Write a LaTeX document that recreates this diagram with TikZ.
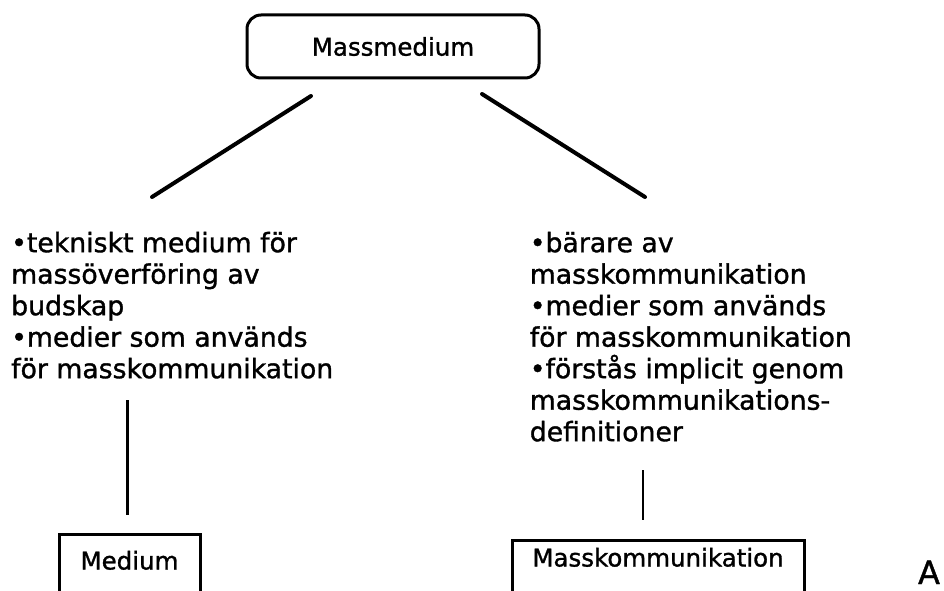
\documentclass[tikz,border=0pt]{standalone}
\usepackage{fontspec}
\setmainfont[FakeBold=1.2]{DejaVu Sans}
\begin{document}
\begin{tikzpicture}[x=1pt,y=-1pt,
  boxline/.style={draw=black, line width=3pt},
  boxtext/.style={font=\fontsize{24.5}{29}\selectfont},
  body/.style={font=\fontsize{26.7}{31.5}\selectfont, align=left, inner sep=0pt, anchor=north west},
  link/.style={line width=4pt, line cap=round},
  stem/.style={line width=3pt}]
\useasboundingbox (0,0) rectangle (944,591);
\clip (0,0) rectangle (944,591);

% top concept
\node[boxline, boxtext, rounded corners=14pt, minimum width=292pt, minimum height=63pt]
  (top) at (393,46.5) {Massmedium};

% the two readings of the concept
\node[body] (left) at (11,231.7)
  {•tekniskt medium för\\massöverföring av\\budskap\\•medier som används\\för masskommunikation};
\node[body] (right) at (529.6,231.7)
  {•bärare av\\masskommunikation\\•medier som används\\för masskommunikation\\•förstås implicit genom\\masskommunikations-\\definitioner};

% branches from the top concept
\coordinate (la) at (311,96);
\coordinate (lb) at (152,197);
\coordinate (ra) at (482,94);
\coordinate (rb) at (645,197);
\draw[link] (la) -- (lb);
\draw[link] (ra) -- (rb);

% lower concepts
\node[boxline, boxtext, anchor=north, minimum width=141pt, inner ysep=22pt,
  text height=13pt, text depth=5pt] (medium) at (129.5,533) {Medium};
\node[boxline, boxtext, anchor=north, minimum width=292pt, inner ysep=13pt,
  text height=13pt, text depth=30pt] (mk) at (658,539) {Masskommunikation};

\coordinate (lc) at (127,400);
\coordinate (ld) at (127,515);
\coordinate (rc) at (643,470);
\coordinate (rd) at (643,520);
\draw[stem] (lc) -- (ld);
\draw[line width=2.6pt] (rc) -- (rd);

% panel letter
\node[font=\fontsize{32}{40}\selectfont, anchor=base, inner sep=0pt] (letter) at (929,584) {A};
\end{tikzpicture}
\end{document}
